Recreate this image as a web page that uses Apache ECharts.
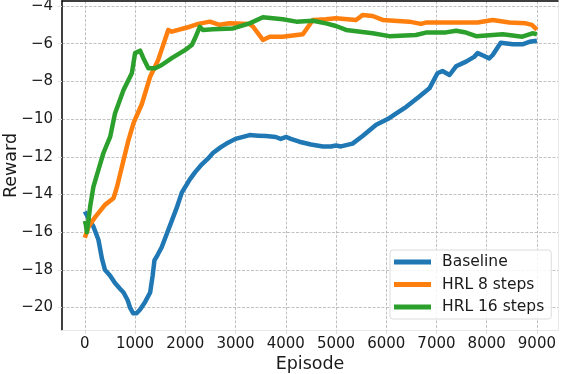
<!DOCTYPE html>
<html>
<head>
<meta charset="utf-8">
<script src="https://cdn.jsdelivr.net/npm/echarts@6/dist/echarts.min.js"></script>
<style>
  html, body { margin: 0; padding: 0; background: #fff; }
  #chart { width: 562px; height: 374px; }
</style>
</head>
<body>
<div id="chart"></div>
<script>
// tick labels
const xTicks = [0, 1000, 2000, 3000, 4000, 5000, 6000, 7000, 8000, 9000];
const yTicks = [-20, -18, -16, -14, -12, -10, -8, -6, -4];

// Baseline
const baseEp = [0, 40, 100, 170, 270, 340, 400, 500, 600, 700, 770, 850, 900, 960, 1030, 1100, 1200, 1300, 1350, 1385, 1450, 1530, 1630, 1730, 1830, 1930, 2090, 2200, 2330, 2450, 2550, 2700, 2820, 3000, 3280, 3450, 3610, 3800, 3900, 4010, 4100, 4270, 4500, 4740, 4900, 5000, 5100, 5330, 5530, 5800, 6060, 6200, 6400, 6660, 6860, 7020, 7120, 7260, 7390, 7590, 7750, 7820, 7950, 8050, 8120, 8280, 8520, 8710, 8850, 9000];
const baseRw = [-14.9, -15.1, -15.4, -15.7, -16.4, -17.4, -18.0, -18.3, -18.7, -19.0, -19.2, -19.6, -20.0, -20.3, -20.3, -20.1, -19.7, -19.2, -18.3, -17.5, -17.2, -16.8, -16.1, -15.4, -14.7, -13.9, -13.2, -12.8, -12.4, -12.1, -11.8, -11.5, -11.3, -11.05, -10.85, -10.88, -10.9, -10.95, -11.05, -10.95, -11.05, -11.2, -11.35, -11.45, -11.45, -11.4, -11.45, -11.3, -10.9, -10.3, -9.95, -9.7, -9.35, -8.8, -8.37, -7.57, -7.45, -7.66, -7.2, -6.95, -6.7, -6.5, -6.65, -6.78, -6.6, -5.95, -6.03, -6.03, -5.9, -5.84];

// HRL 8 steps
const hrl8Ep = [0, 75, 205, 400, 570, 640, 740, 870, 970, 1135, 1300, 1460, 1660, 1730, 2090, 2260, 2490, 2680, 2880, 3280, 3350, 3545, 3680, 3940, 4340, 4540, 4800, 5000, 5400, 5530, 5730, 5930, 6460, 6690, 6790, 7260, 7820, 8120, 8450, 8780, 8900, 9000];
const hrl8Rw = [-16.3, -15.7, -15.2, -14.55, -14.2, -13.6, -12.5, -11.1, -10.2, -9.2, -7.75, -6.86, -5.27, -5.36, -5.1, -4.95, -4.83, -5.0, -4.92, -4.95, -5.1, -5.8, -5.63, -5.63, -5.5, -4.74, -4.7, -4.65, -4.74, -4.48, -4.53, -4.74, -4.83, -4.95, -4.88, -4.88, -4.88, -4.74, -4.88, -4.92, -5.0, -5.25];

// HRL 16 steps
const hrl16Ep = [0, 20, 40, 105, 170, 270, 370, 505, 600, 770, 935, 1000, 1100, 1165, 1265, 1400, 1530, 1730, 2000, 2130, 2195, 2290, 2350, 2550, 2950, 3280, 3545, 3940, 4210, 4540, 4800, 5000, 5200, 5730, 6060, 6590, 6790, 7190, 7390, 7590, 7790, 8320, 8710, 8910, 9000];
const hrl16Rw = [-15.4, -15.6, -16.0, -14.65, -13.6, -12.7, -11.8, -10.93, -9.7, -8.46, -7.57, -6.5, -6.37, -6.77, -7.3, -7.3, -7.13, -6.77, -6.33, -6.07, -5.7, -5.1, -5.27, -5.24, -5.19, -4.92, -4.6, -4.7, -4.83, -4.78, -4.92, -5.06, -5.27, -5.45, -5.6, -5.54, -5.41, -5.4, -5.31, -5.41, -5.6, -5.5, -5.63, -5.45, -5.5];

const zip = (xs, ys) => xs.map((x, i) => [x, ys[i]]);
const minus = v => (v < 0 ? '\u2212' + Math.abs(v) : String(v));

const font = 'DejaVu Sans';
const xMin = -455, xMax = 9420;
const yMin = -21.19, yMax = -3.735;
const gridDash = { color: '#b3b3b3', width: 0.8, type: [3, 1.5] };

const chart = echarts.init(document.getElementById('chart'));

const lineSeries = (name, color, data) => ({
  name: name,
  type: 'line',
  data: data,
  showSymbol: false,
  symbol: 'none',
  lineStyle: { color: color, width: 4.5, join: 'round' },
  itemStyle: { color: color },
  emphasis: { disabled: true }
});

chart.setOption({
  animation: false,
  grid: { left: 62, right: 4, top: 1, bottom: 44, outerBoundsMode: 'none', containLabel: false },
  xAxis: [
    {
      type: 'value',
      position: 'bottom',
      min: xMin,
      max: xMax,
      name: 'Episode',
      nameLocation: 'middle',
      nameGap: 25,
      nameMoveOverlap: false,
      nameTextStyle: { fontFamily: font, fontSize: 17.5, color: '#1a1a1a' },
      axisLine: { show: true, onZero: false, lineStyle: { color: '#e8e8e8', width: 1 } },
      axisTick: { show: true, length: 4, lineStyle: { color: '#e0e0e0' }, customValues: xTicks },
      axisLabel: { fontFamily: font, fontSize: 15, color: '#1a1a1a', margin: 7, formatter: v => String(v), customValues: xTicks },
      splitLine: { show: true, lineStyle: gridDash }
    },
    {
      // top spine
      type: 'value',
      position: 'top',
      min: xMin,
      max: xMax,
      axisLine: { show: true, onZero: false, lineStyle: { color: '#000', width: 1.5 } },
      axisTick: { show: false },
      axisLabel: { show: false },
      splitLine: { show: false }
    }
  ],
  yAxis: [
    {
      type: 'value',
      min: yMin,
      max: yMax,
      name: 'Reward',
      nameLocation: 'middle',
      nameGap: 42,
      nameMoveOverlap: false,
      nameTextStyle: { fontFamily: font, fontSize: 17.5, color: '#1a1a1a' },
      axisLine: { show: true, onZero: false, lineStyle: { color: '#000', width: 1.5 } },
      axisTick: { show: true, length: 4, lineStyle: { color: '#e0e0e0' }, customValues: yTicks },
      axisLabel: { fontFamily: font, fontSize: 15, color: '#1a1a1a', margin: 9, formatter: minus, customValues: yTicks },
      splitLine: { show: true, lineStyle: gridDash }
    },
    {
      // right spine
      type: 'value',
      position: 'right',
      min: yMin,
      max: yMax,
      axisLine: { show: true, onZero: false, lineStyle: { color: '#e8e8e8', width: 1 } },
      axisTick: { show: false },
      axisLabel: { show: false },
      splitLine: { show: false }
    }
  ],
  legend: {
    left: 390,
    top: 250,
    orient: 'vertical',
    icon: 'rect',
    itemWidth: 37,
    itemHeight: 5,
    itemGap: 4.5,
    padding: [3, 7, 3, 4],
    borderColor: '#dcdcdc',
    borderWidth: 1,
    borderRadius: 3,
    backgroundColor: 'rgba(255,255,255,0.85)',
    textStyle: { fontFamily: font, fontSize: 15.5, lineHeight: 18, color: '#1a1a1a', padding: [0, 0, 0, 6] },
    data: ['Baseline', 'HRL 8 steps', 'HRL 16 steps']
  },
  series: [
    lineSeries('Baseline', '#1f77b4', zip(baseEp, baseRw)),
    lineSeries('HRL 8 steps', '#ff7f0e', zip(hrl8Ep, hrl8Rw)),
    lineSeries('HRL 16 steps', '#2ca02c', zip(hrl16Ep, hrl16Rw))
  ]
});
</script>
</body>
</html>
